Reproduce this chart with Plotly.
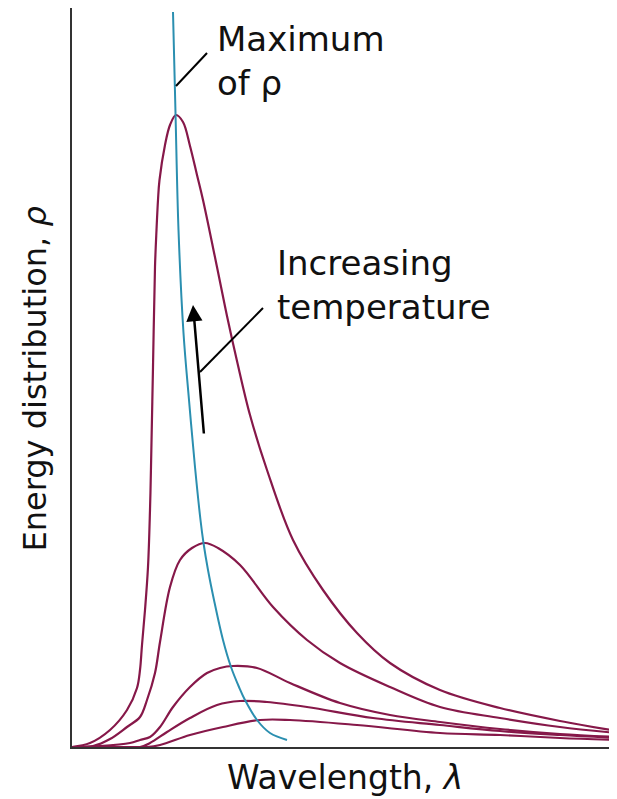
import plotly.graph_objects as go

# Wavelength (arbitrary units) and energy density (arbitrary units)
x_t1 = [0, 0.18, 0.38, 0.55, 0.65, 0.68, 0.70, 0.73, 0.76, 0.78, 0.79, 0.81, 0.83, 0.845, 0.86, 0.875,
        0.93, 0.98, 1.04, 1.11, 1.18, 1.25, 1.31, 1.45, 1.55, 1.65, 1.78, 1.95, 2.21, 2.51, 2.85, 3.18,
        3.68, 4.28, 4.88, 5.45]
y_t1 = [0, 0.4, 1.7, 3.7, 5.9, 7.7, 10.2, 13.7, 18.0, 23.7, 28.0, 38.0, 48.0, 51.7, 54.7, 56.7,
        60.2, 62.2, 63.2, 62.5, 60.1, 57.2, 54.7, 48.0, 43.1, 38.6, 33.2, 27.7, 20.7, 15.7, 11.4, 8.4,
        5.7, 3.9, 2.6, 1.6]

x_t2 = [0, 0.21, 0.38, 0.55, 0.68, 0.75, 0.83, 0.88, 0.98, 1.08, 1.20, 1.33, 1.46, 1.68, 2.01, 2.35,
        2.68, 3.18, 3.68, 4.28, 4.88, 5.45]
y_t2 = [0, 0.1, 0.8, 2.0, 3.0, 4.7, 7.4, 10.5, 16.0, 18.7, 19.9, 20.4, 19.9, 18.2, 14.0, 10.7,
        8.4, 6.0, 4.0, 2.9, 2.0, 1.4]

x_t3 = [0, 0.28, 0.58, 0.68, 0.78, 0.88, 1.01, 1.18, 1.35, 1.48, 1.61, 1.85, 2.18, 2.68, 3.18, 3.68,
        4.28, 4.88, 5.45]
y_t3 = [0, 0.1, 0.4, 0.7, 1.0, 2.0, 4.0, 6.0, 7.4, 7.9, 8.1, 7.9, 6.4, 4.4, 3.2, 2.5,
        1.8, 1.3, 1.0]

x_t4 = [0, 0.48, 0.68, 0.78, 0.95, 1.18, 1.45, 1.68, 1.95, 2.35, 3.01, 3.68, 4.28, 4.88, 5.45]
y_t4 = [0, 0, 0, 0.4, 1.5, 2.9, 4.2, 4.6, 4.5, 4.0, 2.9, 2.2, 1.6, 1.2, 0.9]

x_t5 = [0, 0.58, 0.75, 0.88, 1.18, 1.51, 1.88, 2.18, 2.85, 3.68, 4.28, 4.88, 5.45]
y_t5 = [0, 0, 0, 0.2, 1.2, 2.0, 2.7, 2.7, 2.2, 1.4, 1.2, 0.9, 0.7]

# Locus of the maximum of rho
x_max = [1.01, 1.035, 1.065, 1.115, 1.17, 1.23, 1.285, 1.315, 1.36, 1.42, 1.51, 1.59, 1.67,
         1.73, 1.85, 1.98, 2.15]
y_max = [73.5, 63.4, 51.7, 41.4, 34.7, 28.0, 22.7, 20.4, 17.7, 14.7, 10.7, 8.0, 6.0,
         4.7, 2.7, 1.4, 0.7]

curves = [(x_t1, y_t1), (x_t2, y_t2), (x_t3, y_t3), (x_t4, y_t4), (x_t5, y_t5)]

MAGENTA = "#861849"
TEAL = "#2b8fb0"
FONT = "DejaVu Sans"

fig = go.Figure()
for xs, ys in curves:
    fig.add_trace(go.Scatter(x=xs, y=ys, mode="lines",
                             line=dict(color=MAGENTA, width=2.2, shape="spline", smoothing=1.0),
                             hoverinfo="skip", showlegend=False))
fig.add_trace(go.Scatter(x=x_max, y=y_max, mode="lines",
                         line=dict(color=TEAL, width=2, shape="spline", smoothing=1.0),
                         hoverinfo="skip", showlegend=False))

# leader lines
fig.add_shape(type="line", xref="x", yref="y", x0=1.35, y0=69.4, x1=1.04, y1=66.1,
              line=dict(color="black", width=2))
fig.add_shape(type="line", xref="x", yref="y", x0=1.91, y0=43.9, x1=1.28, y1=37.5,
              line=dict(color="black", width=2))

# arrow
fig.add_annotation(x=1.21, y=44.2, ax=1.32, ay=31.2, xref="x", yref="y", axref="x", ayref="y",
                   showarrow=True, arrowhead=2, arrowsize=1.3, arrowwidth=2.5,
                   arrowcolor="black", text="")

fig.add_annotation(x=1.43, y=73.0, xref="x", yref="y", xanchor="left", yanchor="top",
                   text="Maximum<br>of ρ", align="left", showarrow=False,
                   font=dict(family=FONT, size=34, color="#111"))
fig.add_annotation(x=2.03, y=50.6, xref="x", yref="y", xanchor="left", yanchor="top",
                   text="Increasing<br>temperature", align="left", showarrow=False,
                   font=dict(family=FONT, size=34, color="#111"))

# axis titles
fig.add_annotation(x=0.5, y=-0.0406, xref="paper", yref="paper", xanchor="center", yanchor="middle",
                   text="Wavelength, <i>λ</i>", showarrow=False,
                   font=dict(family=FONT, size=33, color="#111"))
fig.add_annotation(x=-0.068, y=0.4986, xref="paper", yref="paper", xanchor="center", yanchor="middle",
                   text="Energy distribution, <i>ρ</i>", textangle=-90, showarrow=False,
                   font=dict(family=FONT, size=32, color="#111"))

fig.update_xaxes(range=[0, 5.45], showgrid=False, zeroline=False, showticklabels=False, ticks="",
                 showline=True, linecolor="#333", linewidth=2)
fig.update_yaxes(range=[0, 73.9], showgrid=False, zeroline=False, showticklabels=False, ticks="",
                 showline=True, linecolor="#333", linewidth=2)

# the page adds an 8 px body margin, so the figure is 8 px smaller on each side
fig.update_layout(width=609, height=791, margin=dict(l=64, r=0, t=0, b=52),
                  plot_bgcolor="white", paper_bgcolor="white", showlegend=False)

fig.write_html("out.html")
